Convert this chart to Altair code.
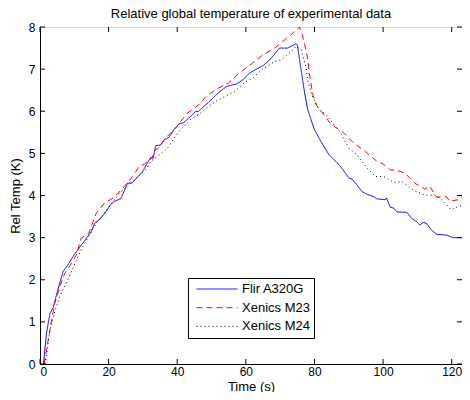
import altair as alt
import pandas as pd

flir_x = [1, 1.9, 2.9, 3.8, 5, 6.7, 8.1, 10, 12.5, 14.9, 16, 17.3, 19.3, 20.5, 21.7, 23.6, 25.5, 26.9, 29.9, 32.3, 33.0, 33.7, 35.2, 36.1, 37.6, 39.0, 40.5, 41.9, 44.3, 45.3, 46.2, 49.1, 51.1, 52.5, 54.4, 57.3, 59.2, 60.7, 62.6, 65.0, 67.4, 69.8, 72.2, 74.6, 75.0, 76.1, 77.1, 78.0, 79.9, 81.9, 84.3, 87.2, 90.1, 91.0, 93.9, 95.3, 97.3, 98.2, 100.6, 101.0, 102.1, 103.1, 104.0, 106.9, 108.3, 109.8, 110.7, 111.7, 112.6, 114.1, 115.6, 118.5, 120.4, 124]
flir_y = [0, 0.73, 1.2, 1.33, 1.7, 2.19, 2.35, 2.6, 2.87, 3.14, 3.35, 3.42, 3.62, 3.78, 3.86, 3.93, 4.29, 4.3, 4.57, 4.91, 4.88, 5.18, 5.2, 5.32, 5.38, 5.56, 5.70, 5.73, 5.91, 5.99, 6.0, 6.21, 6.37, 6.47, 6.59, 6.65, 6.75, 6.88, 6.98, 7.08, 7.26, 7.50, 7.50, 7.60, 7.58, 6.98, 6.45, 6.05, 5.58, 5.28, 4.96, 4.73, 4.41, 4.39, 4.09, 4.03, 3.97, 3.92, 3.90, 3.94, 3.72, 3.70, 3.61, 3.60, 3.46, 3.38, 3.30, 3.36, 3.34, 3.18, 3.08, 3.06, 3.00, 3.0]

m23_x = [1.2, 2.4, 3.4, 4.3, 5.8, 7.2, 8.5, 10.6, 12.0, 14.2, 16.4, 18.8, 21.5, 24.1, 27, 28.9, 30.5, 32.7, 33.7, 34.2, 36.6, 39.5, 42.9, 46.2, 48.6, 52.0, 54.9, 57.8, 61.6, 65.0, 68.4, 70.8, 73.2, 75.6, 76.5, 77.1, 78.0, 78.5, 79.5, 80.5, 82.0, 84.5, 86.5, 88.6, 91.5, 94.9, 98.2, 100.0, 102.1, 104.0, 106.4, 109.3, 112.2, 113.6, 115.6, 118.5, 119.4, 121.8, 124]
m23_y = [0, 0.57, 1.05, 1.44, 1.84, 2.15, 2.3, 2.59, 2.99, 3.1, 3.58, 3.82, 3.95, 4.17, 4.45, 4.69, 4.75, 4.9, 5.10, 5.1, 5.36, 5.6, 5.95, 6.15, 6.37, 6.55, 6.67, 6.89, 7.12, 7.34, 7.50, 7.66, 7.82, 8.0, 7.8, 7.6, 7.26, 6.9, 6.4, 6.15, 6.0, 5.72, 5.6, 5.48, 5.24, 5.04, 4.81, 4.75, 4.61, 4.6, 4.53, 4.29, 4.15, 4.22, 3.96, 3.97, 3.86, 3.90, 4.02]

m24_x = [1.5, 2.9, 4.3, 6, 7.7, 10.6, 12.5, 16.4, 20.2, 23.1, 27, 30.8, 32.3, 34.7, 37.1, 40.5, 43.8, 46.7, 49, 51.1, 53.9, 56.8, 59.7, 62.1, 64.5, 68.4, 70.3, 73.2, 74.6, 76.1, 77.5, 78.0, 79.2, 81.4, 83.3, 85.5, 87.6, 90.1, 92.5, 95.3, 97.8, 100.2, 103.1, 105.5, 108.8, 112.2, 115.1, 117.0, 119.9, 121.8, 124]
m24_y = [0, 0.8, 1.25, 1.65, 1.92, 2.47, 2.79, 3.34, 3.74, 4.05, 4.33, 4.61, 4.81, 4.96, 5.12, 5.52, 5.80, 5.95, 6.1, 6.23, 6.35, 6.47, 6.69, 6.79, 6.98, 7.18, 7.22, 7.42, 7.54, 7.46, 7.06, 6.75, 6.39, 6.03, 5.93, 5.7, 5.48, 5.12, 4.96, 4.65, 4.45, 4.45, 4.31, 4.33, 4.13, 4.01, 4.01, 3.90, 3.66, 3.74, 3.78]

series_names = ["Flir A320G", "Xenics M23", "Xenics M24"]
x_ticks = [0, 20, 40, 60, 80, 100, 120]
y_ticks = [0, 1, 2, 3, 4, 5, 6, 7, 8]

rows = []
for name, xs, ys in [(series_names[0], flir_x, flir_y), (series_names[1], m23_x, m23_y), (series_names[2], m24_x, m24_y)]:
    for i, (a, b) in enumerate(zip(xs, ys)):
        rows.append({"series": name, "t": a, "temp": b, "order": i})
df = pd.DataFrame(rows)

W, H = 422, 337
FONT = "Liberation Sans"
xscale = alt.Scale(domain=[0, 123], nice=False, zero=False)
yscale = alt.Scale(domain=[0, 8], nice=False)

lines = alt.Chart(df).mark_line(strokeWidth=1, clip=True).encode(
    x=alt.X("t:Q", scale=xscale, title="Time (s)",
            axis=alt.Axis(values=x_ticks, ticks=False, grid=False, labelPadding=2,
                          titleY=26, titleBaseline="alphabetic", domainColor="black", labelColor="black",
                          titleColor="black", labelFontSize=12, titleFontSize=13,
                          labelFont=FONT, titleFont=FONT, titleFontWeight="normal")),
    y=alt.Y("temp:Q", scale=yscale, title="Rel Temp (K)",
            axis=alt.Axis(values=y_ticks, ticks=False, grid=False, labelPadding=5,
                          titlePadding=6, domainColor="black", labelColor="black",
                          titleColor="black", labelFontSize=12, titleFontSize=13,
                          labelFont=FONT, titleFont=FONT, titleFontWeight="normal")),
    color=alt.Color("series:N", scale=alt.Scale(domain=series_names, range=["#0000ff", "#ff0000", "#000000"]),
                    legend=alt.Legend(title=None, orient="none", legendX=148, legendY=251,
                                      symbolType="stroke", symbolSize=1681, symbolStrokeWidth=1,
                                      symbolOffset=4, clipHeight=14, rowPadding=4.7,
                                      labelFont=FONT, labelFontSize=13, labelColor="black",
                                      strokeColor="black", fillColor="white", padding=4,
                                      labelOffset=4)),
    strokeDash=alt.StrokeDash("series:N", scale=alt.Scale(domain=series_names, range=[[1, 0], [6, 4], [1, 3]]),
                              legend=None),
    order="order:Q",
)

xt = pd.DataFrame({"v": x_ticks})
yt = pd.DataFrame({"v": y_ticks})
tick_style = dict(color="black", strokeWidth=1)
xbot = alt.Chart(xt).mark_rule(**tick_style).encode(x=alt.X("v:Q", scale=xscale), y=alt.value(H), y2=alt.value(H - 5))
xtop = alt.Chart(xt).mark_rule(**tick_style).encode(x=alt.X("v:Q", scale=xscale), y=alt.value(0), y2=alt.value(5))
yleft = alt.Chart(yt).mark_rule(**tick_style).encode(y=alt.Y("v:Q", scale=yscale), x=alt.value(0), x2=alt.value(5))
yright = alt.Chart(yt).mark_rule(**tick_style).encode(y=alt.Y("v:Q", scale=yscale), x=alt.value(W), x2=alt.value(W - 5))

chart = alt.layer(lines, xbot, xtop, yleft, yright).properties(
    width=W, height=H,
    title=alt.TitleParams("Relative global temperature of experimental data", font=FONT,
                          fontSize=13, fontWeight="normal", color="black", offset=0),
    autosize=alt.AutoSizeParams(type="none"),
    padding={"left": 32, "top": 19, "right": 0, "bottom": 28},
).configure_view(stroke="black", strokeWidth=1).configure(background="white")

chart.save("out.html", embed_options={"renderer": "svg", "actions": False})
